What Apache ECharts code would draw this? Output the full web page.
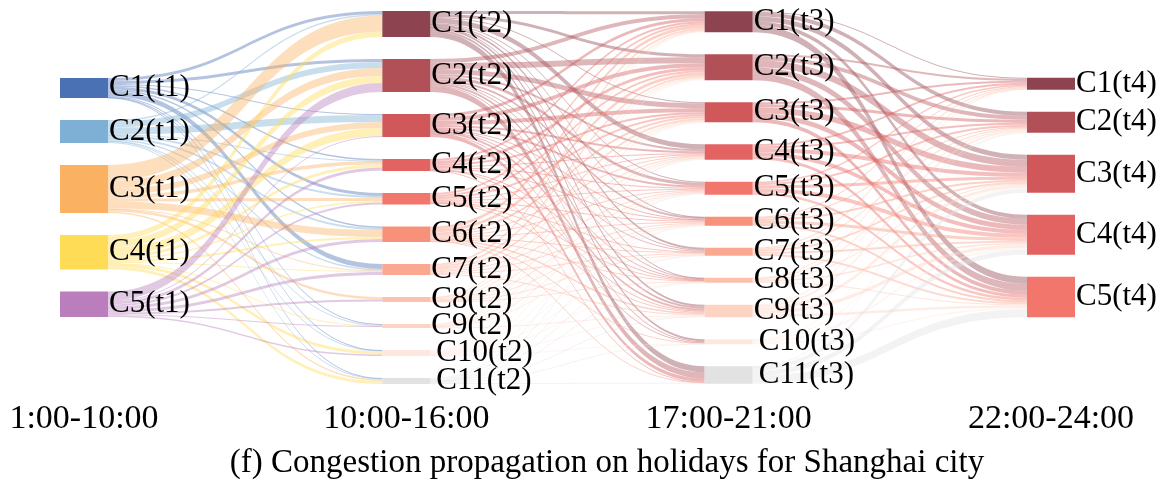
<!DOCTYPE html>
<html>
<head>
<meta charset="utf-8">
<script src="https://cdn.jsdelivr.net/npm/echarts@6/dist/echarts.min.js"></script>
<style>
  html, body { margin: 0; padding: 0; background: #ffffff; }
  #chart { width: 1164px; height: 481px; }
</style>
</head>
<body>
<div id="chart"></div>
<script>
// Time periods (one column of clusters per period)
const periods = ['1:00-10:00', '10:00-16:00', '17:00-21:00', '22:00-24:00'];
const stageTags = ['t1', 't2', 't3', 't4'];
const clusterCounts = [5, 11, 11, 5];
const caption = '(f) Congestion propagation on holidays for Shanghai city';

// Flow from each t1 cluster (rows) to each t2 cluster (columns)
const flowsT1T2 = [
  [3,   3, 1, 1.5, 3,   1.5, 5,   0,   1,   0.5, 0.5],
  [1.5, 6, 7, 0.5, 2,   2,   1.5, 0,   0.5, 1,   1],
  [16,  8, 6, 3.5, 3,   7,   0.5, 2.5, 0,   0,   1.5],
  [5.5, 7, 8, 3,   1.5, 2,   1,   0,   0.5, 3,   3],
  [0,   9, 1, 3,   2,   3,   3,   2,   1,   1.5, 0]
];

// Flow from each t2 cluster (rows) to each t3 cluster (columns)
const flowsT2T3 = [
  [3,   3, 1,   5,   1,   0.5, 2,   0.5, 2,   2,   6],
  [4,   6, 5,   2,   3,   2,   1,   1,   2,   1,   6],
  [3,   4, 4,   2,   2,   0.5, 1,   0.5, 2,   0.5, 3.5],
  [2,   3, 2,   1,   1,   1,   0,   0.5, 1,   0,   0.5],
  [2,   2, 2,   1,   1,   1,   0.5, 0.5, 1,   0,   0],
  [3,   3, 2,   1,   1,   1,   1,   0.5, 1.5, 0.5, 0.5],
  [2,   2, 2,   1,   1,   1,   1,   0,   1,   0,   0],
  [0.5, 1, 1,   0.5, 0.5, 0.5, 0.5, 0.5, 0,   0,   0],
  [0.5, 1, 0.5, 0.5, 0.5, 0.5, 0,   0,   0.5, 0,   0],
  [1,   1, 0.5, 0.5, 0.5, 0.5, 0.5, 0.5, 0.5, 0.5, 0],
  [0,   0, 0,   1,   1,   0.5, 0.5, 0.5, 1,   0.5, 1]
];

// Flow from each t3 cluster (rows) to each t4 cluster (columns)
const flowsT3T4 = [
  [1,   4,   5, 4,   7],
  [2,   4,   7, 6,   7],
  [2,   3,   6, 5,   4],
  [2,   2,   4, 4,   3],
  [1.5, 2,   3, 4,   2.5],
  [1,   1,   2, 3,   2],
  [1,   1,   2, 2,   2],
  [0.5, 1,   1, 1.5, 1],
  [1,   2,   3, 3.5, 2.5],
  [0,   0.5, 1, 2,   1.5],
  [0,   0.5, 4, 5,   8]
];

// Palettes
const firstStageColors = ['#4a71b4', '#7eb0d5', '#fbb162', '#fedc56', '#bb7ebd'];
const redColors = ['#8e4450', '#b25058', '#d0585a', '#e26362', '#f2766c',
                   '#f8917a', '#faa890', '#fcc0ac', '#fdd4c4', '#fee8de', '#e2e2e2'];

const flowMatrices = [flowsT1T2, flowsT2T3, flowsT3T4];

// Plot box and node geometry
const box = { left: 60, top: 11, width: 1015, height: 373 };
const nodeWidth = 48;
const nodeGap = 22;
const fontFamily = '"Liberation Serif", "Times New Roman", serif';

function nodeName(stage, i) {
  return 'C' + (i + 1) + '(' + stageTags[stage] + ')';
}

// Node value as the sankey layout computes it: max(inflow, outflow)
function nodeValue(stage, i) {
  let inflow = 0, outflow = 0;
  if (stage > 0) flowMatrices[stage - 1].forEach(row => { inflow += row[i]; });
  if (stage < periods.length - 1) flowMatrices[stage][i].forEach(v => { outflow += v; });
  return Math.max(inflow, outflow);
}

// Stack every column with a fixed gap and centre it vertically
const stageValues = clusterCounts.map((n, s) => Array.from({ length: n }, (_, i) => nodeValue(s, i)));
const ky = Math.min.apply(null, stageValues.map(vals =>
  (box.height - (vals.length - 1) * nodeGap) / vals.reduce((a, b) => a + b, 0)));

const nodes = [];
stageValues.forEach((vals, s) => {
  const span = vals.reduce((a, b) => a + b, 0) * ky + (vals.length - 1) * nodeGap;
  let y = (box.height - span) / 2;
  vals.forEach((v, i) => {
    const color = s === 0 ? firstStageColors[i] : redColors[i];
    nodes.push({
      name: nodeName(s, i),
      localY: y / box.height,
      itemStyle: { color: color, borderWidth: 0 },
      label: { distance: i >= 9 ? 6 : 1 }
    });
    y += v * ky + nodeGap;
  });
});

const links = [];
flowMatrices.forEach((matrix, s) => {
  matrix.forEach((row, i) => {
    row.forEach((v, j) => {
      if (v > 0) links.push({ source: nodeName(s, i), target: nodeName(s + 1, j), value: v });
    });
  });
});

// Period labels under each column, plus the caption
const graphics = periods.map((p, s) => ({
  type: 'text',
  x: box.left + s * (box.width - nodeWidth) / (periods.length - 1) + nodeWidth / 2,
  y: 419,
  style: {
    text: p, fill: '#000', font: '34px ' + fontFamily,
    textAlign: 'center', textVerticalAlign: 'middle'
  }
}));
graphics.push({
  type: 'text',
  x: 607,
  y: 463,
  style: {
    text: caption, fill: '#000', font: '33px ' + fontFamily,
    textAlign: 'center', textVerticalAlign: 'middle'
  }
});

const chart = echarts.init(document.getElementById('chart'), null, { renderer: 'canvas' });
chart.setOption({
  backgroundColor: '#ffffff',
  animation: false,
  graphic: graphics,
  series: [{
    type: 'sankey',
    left: box.left,
    top: box.top,
    width: box.width,
    height: box.height,
    nodeWidth: nodeWidth,
    nodeGap: nodeGap,
    layoutIterations: 0,
    draggable: false,
    emphasis: { disabled: true },
    data: nodes,
    links: links,
    label: {
      show: true,
      position: 'right',
      color: '#000',
      fontFamily: fontFamily,
      fontSize: 31
    },
    lineStyle: {
      color: 'source',
      opacity: 0.42,
      curveness: 0.5
    }
  }]
});
</script>
</body>
</html>
